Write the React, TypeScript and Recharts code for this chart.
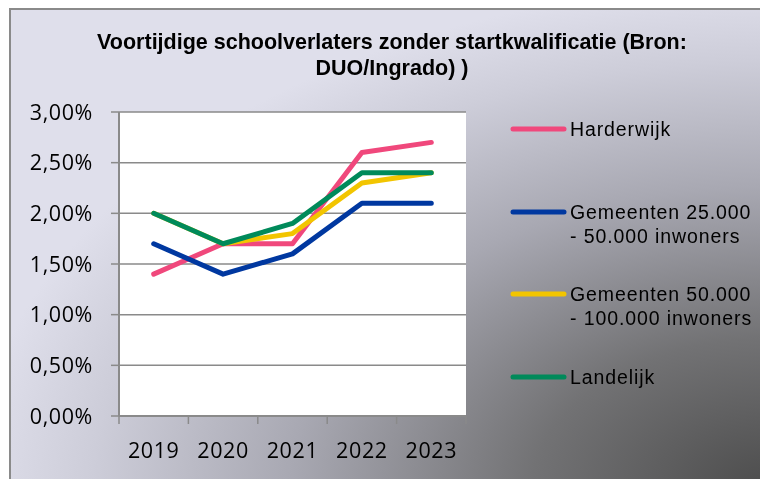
import React from 'react';
import { LineChart, Line, XAxis, YAxis, CartesianGrid } from 'recharts';

const years = ['2019', '2020', '2021', '2022', '2023'];
const harderwijk = [1.4, 1.7, 1.7, 2.6, 2.7];
const gemeenten25 = [1.7, 1.4, 1.6, 2.1, 2.1];
const gemeenten50 = [2.0, 1.7, 1.8, 2.3, 2.4];
const landelijk = [2.0, 1.7, 1.9, 2.4, 2.4];
const yTicks = [0, 0.5, 1, 1.5, 2, 2.5, 3];
const titleLines = ['Voortijdige schoolverlaters zonder startkwalificatie (Bron:', 'DUO/Ingrado) )'];

const seriesKeys = ['h', 'g25', 'g50', 'l'];
const seriesLabels = [
  ['Harderwijk'],
  ['Gemeenten 25.000', '- 50.000 inwoners'],
  ['Gemeenten 50.000', '- 100.000 inwoners'],
  ['Landelijk'],
];
const seriesColors = ['#F0487C', '#0038A0', '#F2C500', '#008A5A'];

const data = years.map((year, i) => ({
  x: i + 0.5,
  year,
  h: harderwijk[i],
  g25: gemeenten25[i],
  g50: gemeenten50[i],
  l: landelijk[i],
}));

const W = 752;
const H = 471;
const M = { top: 104, right: 294, bottom: 23, left: 0 };
const Y_AXIS_W = 111;
const X_AXIS_H = 40;
const PLOT_W = W - M.right - M.left - Y_AXIS_W;
const HALF_BAND = PLOT_W / years.length / 2;

const GRAY = '#8a8a8a';
const TICK_FONT = '"Open Sans", sans-serif';

const XTick = (props: any) => {
  const { x, y, payload } = props;
  const idx = payload.value;
  if (idx >= years.length) return <g />;
  return (
    <text
      x={x + HALF_BAND}
      y={y}
      dy={32}
      textAnchor="middle"
      fontFamily={TICK_FONT}
      fontSize={21.5}
      letterSpacing={0.6}
      fill="#000"
    >
      {years[idx]}
    </text>
  );
};

const legendRows = [121, 204, 286, 369];

export default function App() {
  return (
    <div style={{ position: 'fixed', left: 8, top: 8, width: W, height: H, overflow: 'hidden' }}>
      <svg width={W} height={H} style={{ position: 'absolute', left: 0, top: 0 }}>
        <defs>
          <radialGradient id="bg" cx="1" cy="1" r="1.05" fx="1" fy="1">
            <stop offset="0" stopColor="#4c4c4c" />
            <stop offset="0.3" stopColor="#727274" />
            <stop offset="0.6" stopColor="#a8a8b2" />
            <stop offset="0.85" stopColor="#cdcdd9" />
            <stop offset="1" stopColor="#dfdfeb" />
          </radialGradient>
        </defs>
        <rect x={2} y={1} width={W + 10} height={H + 10} fill="url(#bg)" stroke={GRAY} strokeWidth={2} />
      </svg>
      <div style={{ position: 'absolute', left: 0, top: 0 }}>
        <LineChart width={W} height={H} data={data} margin={M}>
          <CartesianGrid vertical={false} stroke={GRAY} strokeWidth={1.5} fill="#ffffff" fillOpacity={1} />
          <XAxis
            type="number"
            dataKey="x"
            domain={[0, years.length]}
            ticks={years.map((_, i) => i).concat([years.length])}
            interval={0}
            height={X_AXIS_H}
            tickSize={8}
            axisLine={{ stroke: GRAY, strokeWidth: 2 }}
            tickLine={{ stroke: GRAY, strokeWidth: 1.5 }}
            tick={<XTick />}
          />
          <YAxis
            domain={[0, 3]}
            ticks={yTicks}
            interval={0}
            width={Y_AXIS_W}
            tickSize={8}
            tickMargin={18}
            axisLine={{ stroke: GRAY, strokeWidth: 2 }}
            tickLine={{ stroke: GRAY, strokeWidth: 1.5 }}
            tick={{ fontFamily: TICK_FONT, fontSize: 21.5, fill: '#000', letterSpacing: 0.6 }}
            tickFormatter={(v: number) => v.toFixed(2).replace('.', ',') + '%'}
          />
          {seriesKeys.map((k, i) => (
            <Line
              key={k}
              type="linear"
              dataKey={k}
              name={seriesLabels[i].join(' ')}
              stroke={seriesColors[i]}
              strokeWidth={5}
              strokeLinecap="round"
              strokeLinejoin="round"
              dot={false}
              activeDot={false}
              isAnimationActive={false}
            />
          ))}
        </LineChart>
      </div>
      <svg width={W} height={H} style={{ position: 'absolute', left: 0, top: 0, pointerEvents: 'none' }}>
        {titleLines.map((t, i) => (
          <text
            key={i}
            x={384}
            y={41 + i * 26}
            textAnchor="middle"
            fontFamily='"Liberation Sans", Arial, sans-serif'
            fontWeight="bold"
            fontSize={21.5}
            fill="#000"
          >
            {t}
          </text>
        ))}
        {seriesLabels.map((lines, i) => (
          <g key={i}>
            <line
              x1={505}
              x2={556}
              y1={legendRows[i]}
              y2={legendRows[i]}
              stroke={seriesColors[i]}
              strokeWidth={5}
              strokeLinecap="round"
            />
            {lines.map((ln, j) => (
              <text
                key={j}
                x={562}
                y={legendRows[i] + j * 24}
                dy="0.35em"
                fontFamily='"Liberation Sans", Arial, sans-serif'
                fontSize={19.5}
                letterSpacing={0.9}
                fill="#000"
              >
                {ln}
              </text>
            ))}
          </g>
        ))}
      </svg>
    </div>
  );
}
